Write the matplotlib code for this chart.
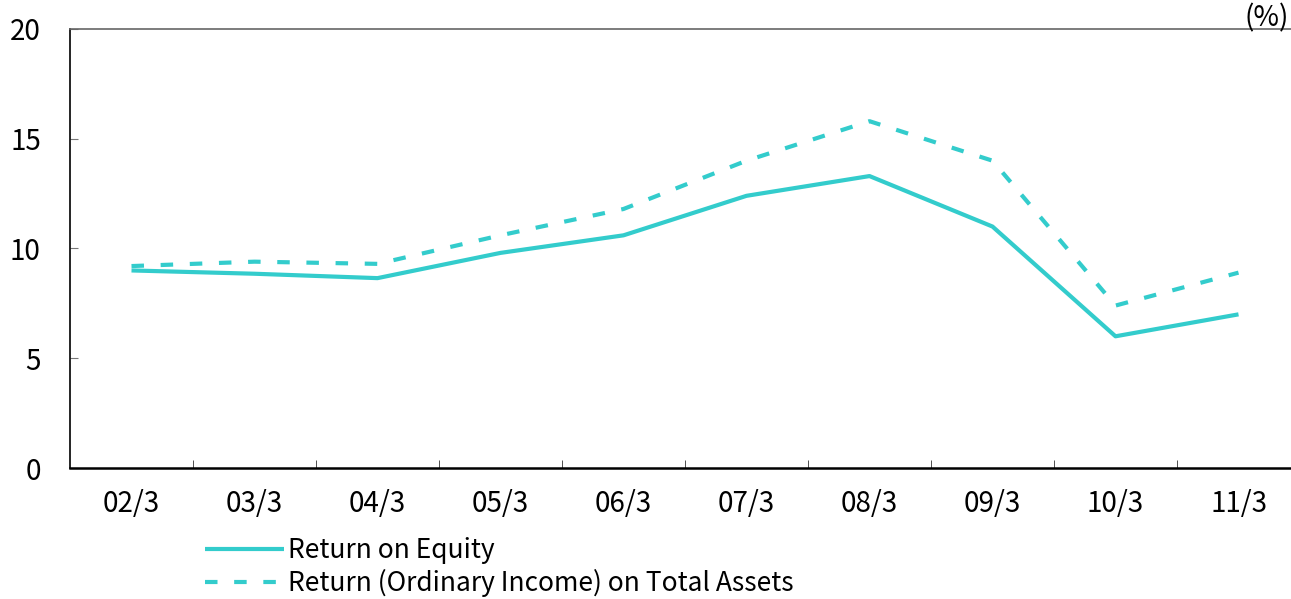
import matplotlib.pyplot as plt
from matplotlib.ticker import FixedLocator

plt.rcParams['font.family'] = ['Noto Sans CJK JP', 'DejaVu Sans']

# fiscal years (March year-end)
years = ["02/3", "03/3", "04/3", "05/3", "06/3", "07/3", "08/3", "09/3", "10/3", "11/3"]
roe = [9.0, 8.85, 8.65, 9.8, 10.6, 12.4, 13.3, 11.0, 6.0, 7.0]
roa = [9.2, 9.4, 9.3, 10.6, 11.8, 14.0, 15.8, 14.0, 7.4, 8.9]

teal = "#33CCCC"
fs = 20

fig = plt.figure(figsize=(12.91, 5.99), dpi=100)
ax = fig.add_axes([70 / 1291, 131 / 599, 1230 / 1291, 439 / 599])

x = list(range(len(years)))
ax.plot(x, roe, color=teal, lw=3, solid_capstyle="butt", label="Return on Equity")
ax.plot(x, roa, color=teal, lw=3, linestyle=(0, (3, 4)), dash_capstyle="butt",
        label="Return (Ordinary Income) on Total Assets")

ax.set_xlim(-0.5, 9.5)
ax.set_ylim(0, 20)
ax.set_yticks([0, 5, 10, 15, 20])
ax.set_xticks(x)
ax.set_xticklabels(years)
ax.xaxis.set_minor_locator(FixedLocator([i + 0.5 for i in range(9)]))

ax.tick_params(axis="y", direction="in", length=6, color="#777777", pad=21, labelsize=fs)
ax.tick_params(axis="x", which="major", length=0, pad=15, labelsize=fs)
ax.tick_params(axis="x", which="minor", direction="in", length=6, color="#333333")

ax.spines["right"].set_visible(False)
ax.spines["top"].set_color("#666666")
ax.spines["top"].set_linewidth(1.2)
ax.spines["left"].set_linewidth(1.2)
ax.spines["bottom"].set_linewidth(1.8)

fig.text(1289 / 1291, 1 - 3 / 599, "(%)", fontsize=fs, va="top", ha="right")

fig.legend(loc="upper left", bbox_to_anchor=(205 / 1291, 1 - 537 / 599), frameon=False,
           fontsize=19, handlelength=3.0, handletextpad=0.15, labelspacing=0.2,
           borderpad=0, borderaxespad=0)

fig.savefig("out.png", dpi=100)
